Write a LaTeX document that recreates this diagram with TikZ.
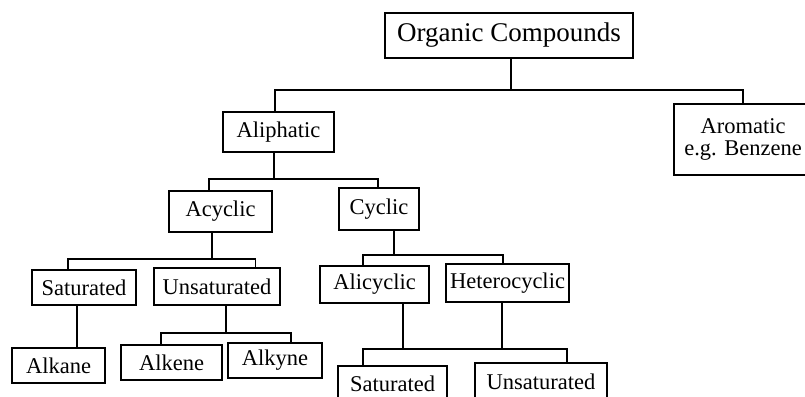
\documentclass[tikz,border=0pt]{standalone}
\usepackage{fontspec}
\setmainfont{Liberation Serif}
\begin{document}
\begin{tikzpicture}[x=1pt,y=-1pt,
  box/.style={draw,line width=1.8pt,inner sep=0pt,align=center,
    font=\fontsize{22.5}{22}\selectfont},
  link/.style={line width=1.8pt}]
\path[use as bounding box] (0,0) rectangle (805,396);
\fill[white] (0,0) rectangle (805,396);
\clip (0,0) rectangle (805,396);

% boxes
\node[box,minimum width=248pt,minimum height=45pt,font=\fontsize{27}{27}\selectfont] (org) at (509,35.5) {Organic Compounds};
\node[box,minimum width=111pt,minimum height=40pt] (ali) at (278.5,132) {Aliphatic};
\node[box,minimum width=138pt,minimum height=71pt] (aro) at (743,139.5) {Aromatic\\e.g. Benzene};
\node[box,minimum width=103pt,minimum height=41pt] (acy) at (220.5,211.5) {Acyclic};
\node[box,minimum width=80pt,minimum height=42pt] (cyc) at (379,209) {Cyclic};
\node[box,minimum width=104pt,minimum height=35pt] (sat1) at (84,287.5) {Saturated};
\node[box,minimum width=126pt,minimum height=37pt] (uns1) at (217,286.5) {Unsaturated};
\node[box,minimum width=93pt,minimum height=35pt] (alkane) at (58.5,365.5) {Alkane};
\node[box,minimum width=101pt,minimum height=35pt] (alkene) at (171.5,362.5) {Alkene};
\node[box,minimum width=94pt,minimum height=35pt] (alkyne) at (275,360.5) {Alkyne};
\node[box,minimum width=109pt,minimum height=37pt] (alicyc) at (374.5,284.5) {Alicyclic};
\node[box,minimum width=123pt,minimum height=38pt] (het) at (507.5,283) {Heterocyclic};
\node[box,minimum width=109pt,minimum height=36pt] (sat2) at (392.5,384) {Saturated};
\node[box,minimum width=132pt,minimum height=37pt] (uns2) at (541,381.5) {Unsaturated};

% organic compounds -> aliphatic / aromatic
\draw[link] ([xshift=2pt]org.south) -- ++(0,31) coordinate (b1);
\draw[link] ([xshift=-3.5pt]ali.north) |- (b1) -| (aro.north);

% aliphatic -> acyclic / cyclic
\draw[link] ([xshift=-4.5pt]ali.south) -- ++(0,26) coordinate (b2);
\draw[link] ([xshift=-11.5pt]acy.north) |- (b2) -| ([xshift=-1pt]cyc.north);

% acyclic -> saturated / unsaturated
\draw[link] ([xshift=-8.5pt]acy.south) -- ++(0,26) coordinate (b3);
\draw[link] ([xshift=-16pt]sat1.north) |- (b3) -| ([xshift=38.5pt]uns1.north);

% saturated -> alkane
\draw[link] ([xshift=-7pt]sat1.south) -- ([xshift=18.5pt]alkane.north);

% unsaturated -> alkene / alkyne
\draw[link] ([xshift=9pt]uns1.south) -- ++(0,27) coordinate (b4);
\draw[link] ([xshift=-10.5pt]alkene.north) |- (b4) -| ([xshift=16pt]alkyne.north);

% cyclic -> alicyclic / heterocyclic
\draw[link] ([xshift=15pt]cyc.south) -- ++(0,24) coordinate (b5);
\draw[link] ([xshift=-11.5pt]alicyc.north) |- (b5) -| ([xshift=-4.5pt]het.north);

% alicyclic, heterocyclic -> saturated / unsaturated
\draw[link] ([xshift=28.5pt]alicyc.south) -- ++(0,45) coordinate (b6);
\draw[link] ([xshift=-5.5pt]het.south) |- (b6);
\draw[link] ([xshift=-29.5pt]sat2.north) |- (b6) -| ([xshift=26pt]uns2.north);
\end{tikzpicture}
\end{document}
